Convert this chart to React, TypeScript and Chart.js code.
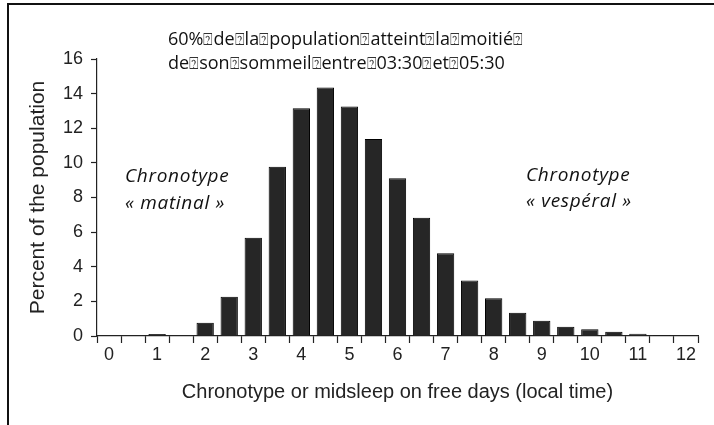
import React, { useEffect, useRef } from "react";
import { Chart, registerables } from "chart.js";

Chart.register(...registerables);

// Bin centres (local time, hours), half-hour bins
const binCenters: number[] = [
  0, 0.5, 1, 1.5, 2, 2.5, 3, 3.5, 4, 4.5, 5, 5.5, 6, 6.5, 7, 7.5, 8, 8.5, 9, 9.5, 10, 10.5, 11, 11.5, 12,
];
// Percent of the population in each bin
const percentValues: (number | null)[] = [
  null, null, 0.12, null, 0.77, 2.27, 5.68, 9.78, 13.15, 14.35, 13.25, 11.38, 9.11, 6.83, 4.78, 3.2, 2.18, 1.35,
  0.88, 0.54, 0.39, 0.25, 0.13, 0.06, null,
];
const yMin = 0;
const yMax = 16;
const yStep = 2;

const xTitle = "Chronotype or midsleep on free days (local time)";
const yTitle = "Percent of the population";
// words of the note; each word is followed by an unrenderable (box) glyph as in the source
const noteWords1 = ["60%", "de", "la", "population", "atteint", "la", "moitié", ""];
const noteWords2 = ["de", "son", "sommeil", "entre", "03:30", "et", "05:30"];
const BOX = "\u2370";
const leftLabel = ["Chronotype", "« matinal »"];
const rightLabel = ["Chronotype", "« vespéral »"];

function BoxedLine({ words, style }: { words: string[]; style: React.CSSProperties }) {
  const parts: React.ReactNode[] = [];
  words.forEach((w, i) => {
    if (i > 0) {
      parts.push(
        <span key={"b" + i} style={{ fontSize: 16, fontFamily: "'DejaVu Sans', sans-serif", color: "#333" }}>
          {BOX}
        </span>
      );
    }
    if (w) parts.push(<span key={"w" + i}>{w}</span>);
  });
  return <div style={style}>{parts}</div>;
}

export default function App() {
  const canvasRef = useRef<HTMLCanvasElement | null>(null);

  useEffect(() => {
    if (!canvasRef.current) return;
    const family = "'Liberation Sans', Arial, sans-serif";
    const tickFont = { family, size: 18 };
    const chart = new Chart(canvasRef.current, {
      type: "bar",
      data: {
        labels: binCenters.map((v) => String(v)),
        datasets: [
          {
            data: percentValues as any,
            backgroundColor: "#262626",
            borderColor: "#000000",
            borderWidth: 1,
            categoryPercentage: 1,
            barPercentage: 0.72,
          },
        ],
      },
      options: {
        animation: false,
        responsive: false,
        maintainAspectRatio: false,
        layout: { padding: { top: 59, right: 16, bottom: 0, left: 0 } },
        plugins: { legend: { display: false }, tooltip: { enabled: false }, title: { display: false } },
        scales: {
          x: {
            type: "category",
            offset: true,
            grid: {
              offset: true,
              drawOnChartArea: false,
              drawTicks: true,
              tickLength: 7,
              tickColor: "#222",
              tickWidth: 1.2,
            },
            border: { display: true, color: "#222", width: 1.2 },
            ticks: {
              autoSkip: false,
              maxRotation: 0,
              padding: 1,
              color: "#222",
              font: tickFont,
              callback: (_v: any, i: number) => (binCenters[i] % 1 === 0 ? String(binCenters[i]) : ""),
            },
            title: {
              display: true,
              text: xTitle,
              color: "#222",
              font: { family, size: 20 },
              padding: { top: 0, bottom: 21 },
            },
            afterFit: (s: any) => {
              s.height = 89;
            },
          },
          y: {
            min: yMin,
            max: yMax,
            grid: {
              drawOnChartArea: false,
              drawTicks: true,
              tickLength: 6,
              tickColor: "#222",
              tickWidth: 1.2,
            },
            border: { display: true, color: "#222", width: 1.2 },
            ticks: { stepSize: yStep, padding: 8, color: "#222", font: tickFont },
            title: {
              display: true,
              text: yTitle,
              color: "#222",
              font: { family, size: 21 },
              padding: { top: 26, bottom: 0 },
            },
            afterFit: (s: any) => {
              s.width = 97;
            },
          },
        },
      },
    });
    return () => chart.destroy();
  }, []);

  const note: React.CSSProperties = {
    position: "absolute",
    fontFamily: "'Open Sans', sans-serif",
    fontSize: 18,
    lineHeight: "20px",
    color: "#111",
    whiteSpace: "pre",
  };
  const ital: React.CSSProperties = { ...note, fontStyle: "italic", fontSize: 19, letterSpacing: 0.7 };

  return (
    <div style={{ position: "absolute", left: 0, top: 0, width: 714, height: 425, background: "#fff", overflow: "hidden" }}>
      <canvas ref={canvasRef} width={714} height={425} style={{ position: "absolute", left: 0, top: 0 }} />
      <div
        style={{
          position: "absolute",
          left: 7,
          top: 3,
          width: 720,
          height: 430,
          borderTop: "2px solid #111",
          borderLeft: "2px solid #111",
          pointerEvents: "none",
        }}
      />
      <BoxedLine words={noteWords1} style={{ ...note, left: 168, top: 28 }} />
      <BoxedLine words={noteWords2} style={{ ...note, left: 168, top: 52 }} />
      <div style={{ ...ital, left: 125, top: 165 }}>{leftLabel[0]}</div>
      <div style={{ ...ital, left: 125, top: 192 }}>{leftLabel[1]}</div>
      <div style={{ ...ital, left: 526, top: 164 }}>{rightLabel[0]}</div>
      <div style={{ ...ital, left: 526, top: 190 }}>{rightLabel[1]}</div>
    </div>
  );
}
